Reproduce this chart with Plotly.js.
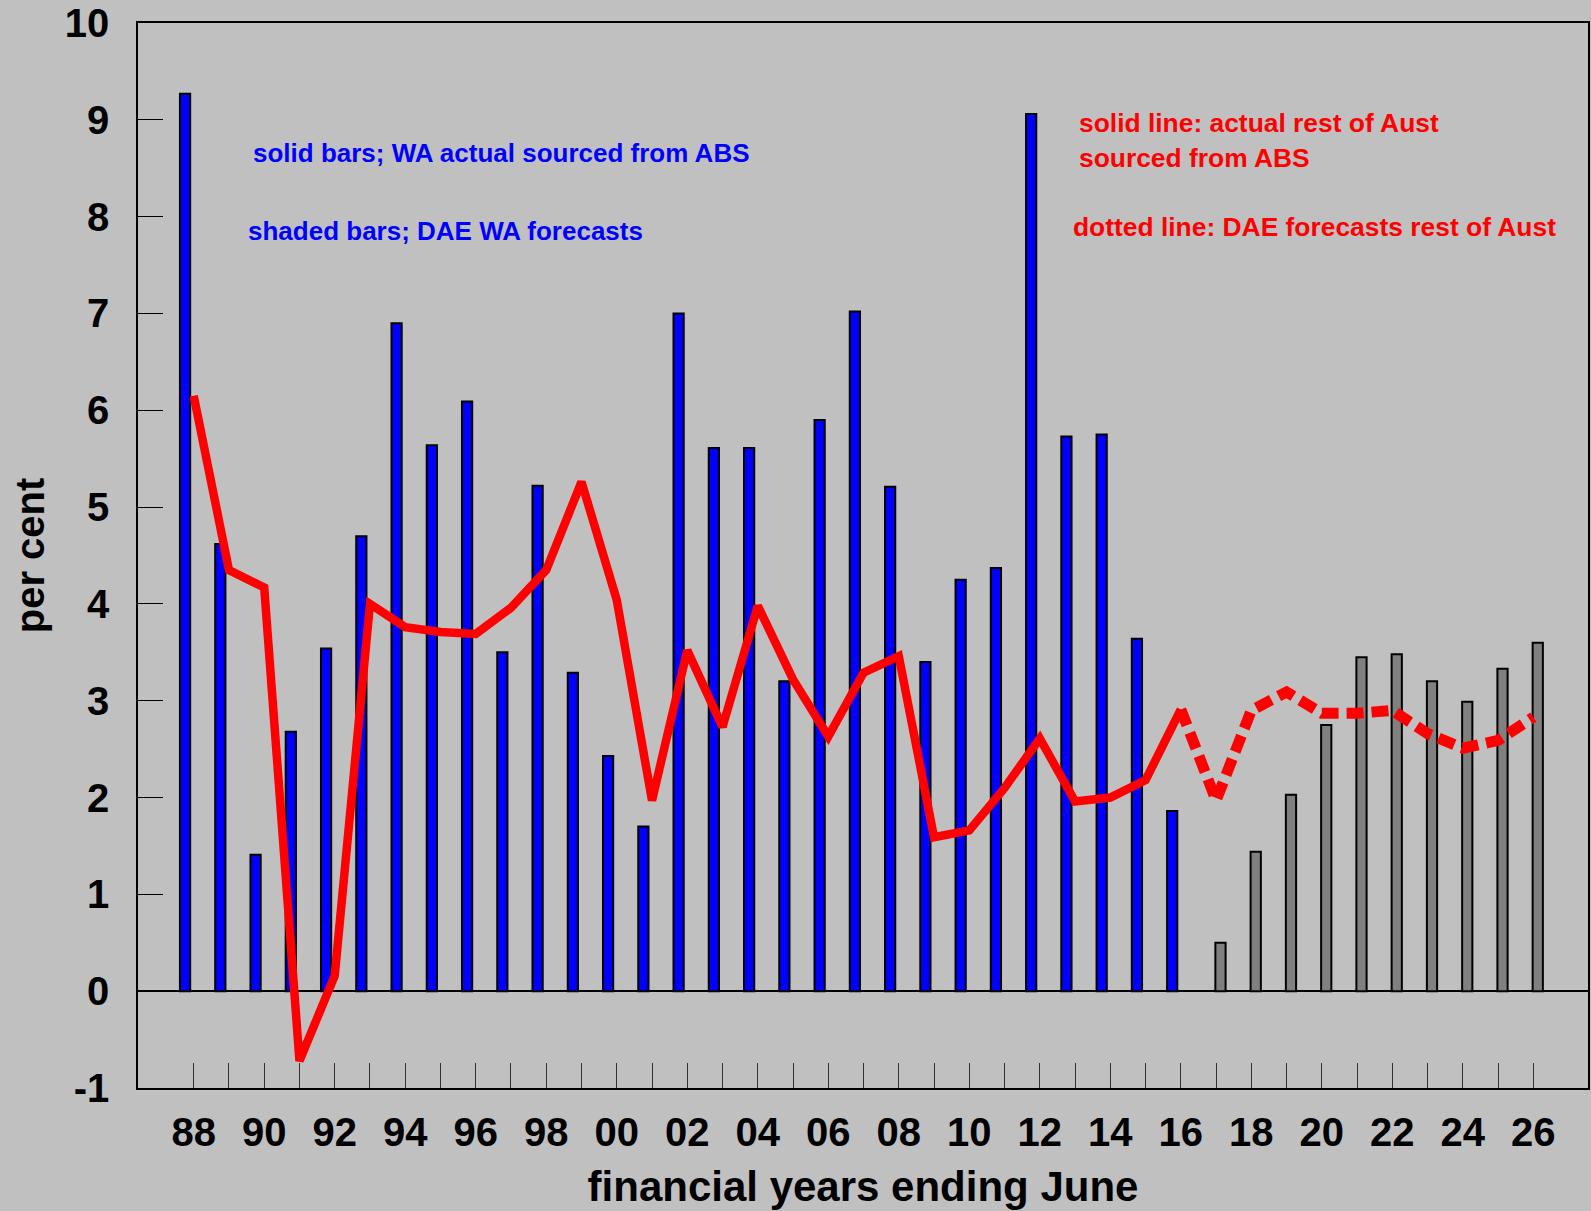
<!DOCTYPE html>
<html>
<head>
<meta charset="utf-8">
<script src="https://cdn.plot.ly/plotly-3.0.1.min.js"></script>
<style>
  body { margin: 0; background: #c0c0c0; }
  #chart { width: 1591px; height: 1211px; }
</style>
</head>
<body>
<div id="chart"></div>
<script>
// financial years ending June, 1988 to 2026
var years = ["88","89","90","91","92","93","94","95","96","97","98","99","00","01","02","03","04","05","06","07",
             "08","09","10","11","12","13","14","15","16","17","18","19","20","21","22","23","24","25","26"];
var actualYears = years.slice(0, 29);     // 88 - 16
var forecastYears = years.slice(29);      // 17 - 26

// WA growth, per cent (bars)
var waActual = [9.27, 4.62, 1.41, 2.68, 3.54, 4.70, 6.90, 5.64, 6.09, 3.50, 5.22, 3.29, 2.43, 1.70, 7.00,
                5.61, 5.61, 3.20, 5.90, 7.02, 5.21, 3.40, 4.25, 4.37, 9.06, 5.73, 5.75, 3.64, 1.86];
var waForecast = [0.50, 1.44, 2.03, 2.75, 3.45, 3.48, 3.20, 2.99, 3.33, 3.60];

// rest of Australia growth, per cent (line)
var restActual = [6.15, 4.35, 4.17, -0.72, 0.16, 4.00, 3.76, 3.71, 3.69, 3.96, 4.35, 5.26, 4.04, 1.97, 3.52,
                  2.73, 3.98, 3.22, 2.63, 3.29, 3.46, 1.59, 1.66, 2.10, 2.61, 1.96, 2.00, 2.18, 2.91];
var restForecast = [1.97, 2.90, 3.09, 2.87, 2.87, 2.90, 2.66, 2.51, 2.59, 2.83];

// only every second year gets a label
var xTickText = years.map((y, i) => i % 2 == 0 ? y : "");
var yTickVals = [-1, 0, 1, 2, 3, 4, 5, 6, 7, 8, 9, 10];
var yTickText = ["-1", "0", "1", "2", "3", "4", "5", "6", "7", "8", "9", "10"];

var font = "Liberation Sans, Arial, sans-serif";

// actual bars sit a little left of the tick, forecast bars a little right
var barActual = {
  x: actualYears, y: waActual, type: "bar",
  width: 0.29, offset: -0.39,
  marker: { color: "#0000ff", line: { color: "#000000", width: 2 } },
  hoverinfo: "x+y"
};
var barForecast = {
  x: forecastYears, y: waForecast, type: "bar",
  width: 0.29, offset: -0.02,
  marker: { color: "#808080", line: { color: "#000000", width: 2 } },
  hoverinfo: "x+y"
};
var lineActual = {
  x: actualYears, y: restActual, type: "scatter", mode: "lines",
  line: { color: "#ff0000", width: 8.5 }
};
var lineForecast = {
  x: [actualYears[actualYears.length - 1]].concat(forecastYears),
  y: [restActual[restActual.length - 1]].concat(restForecast),
  type: "scatter", mode: "lines",
  line: { color: "#ff0000", width: 11, dash: "17px,8px" }
};

var data = [barActual, barForecast, lineActual, lineForecast];

var ann = (text, x, y, color, size) => ({
  text: text, xref: "paper", yref: "paper", x: x, y: y,
  xanchor: "left", yanchor: "middle", showarrow: false,
  font: { family: font, size: size, color: color, weight: "bold" }
});

var layout = {
  width: 1591, height: 1211,
  margin: { l: 138, r: 3, t: 23, b: 123 },
  paper_bgcolor: "#c0c0c0",
  plot_bgcolor: "#c0c0c0",
  showlegend: false,
  barmode: "overlay",
  xaxis: {
    type: "category", categoryorder: "array", categoryarray: years,
    range: [-1.58, 39.55],
    tickvals: years, ticktext: xTickText,
    ticks: "inside", ticklen: 25, tickwidth: 1, tickcolor: "#333333",
    tickfont: { family: font, size: 40, color: "#000000", weight: "bold" },
    ticklabelstandoff: 8,
    showline: true, linecolor: "#000000", linewidth: 1.5, mirror: true,
    showgrid: false, zeroline: false,
    title: { text: "financial years ending June", standoff: 19,
             font: { family: font, size: 42, color: "#000000", weight: "bold" } }
  },
  yaxis: {
    range: [-1, 10],
    tickvals: yTickVals, ticktext: yTickText,
    ticks: "inside", ticklen: 25, tickwidth: 1, tickcolor: "#000000",
    tickfont: { family: font, size: 40, color: "#000000", weight: "bold" },
    ticklabelstandoff: 19,
    showline: true, linecolor: "#000000", linewidth: 1.5, mirror: true,
    showgrid: false,
    zeroline: true, zerolinecolor: "#000000", zerolinewidth: 1.5,
    title: { text: "per cent", standoff: 8,
             font: { family: font, size: 40, color: "#000000", weight: "bold" } }
  },
  annotations: [
    ann("solid bars; WA actual sourced from ABS", 0.0779, 0.8775, "#0000ff", 26),
    ann("shaded bars; DAE WA forecasts", 0.0745, 0.8043, "#0000ff", 26),
    ann("solid line: actual rest of Aust", 0.6476, 0.9057, "#ff0000", 26.4),
    ann("sourced from ABS", 0.6476, 0.8728, "#ff0000", 26.4),
    ann("dotted line: DAE forecasts rest of Aust", 0.6434, 0.8081, "#ff0000", 26.4)
  ]
};

Plotly.newPlot("chart", data, layout, { displayModeBar: false });
</script>
</body>
</html>
